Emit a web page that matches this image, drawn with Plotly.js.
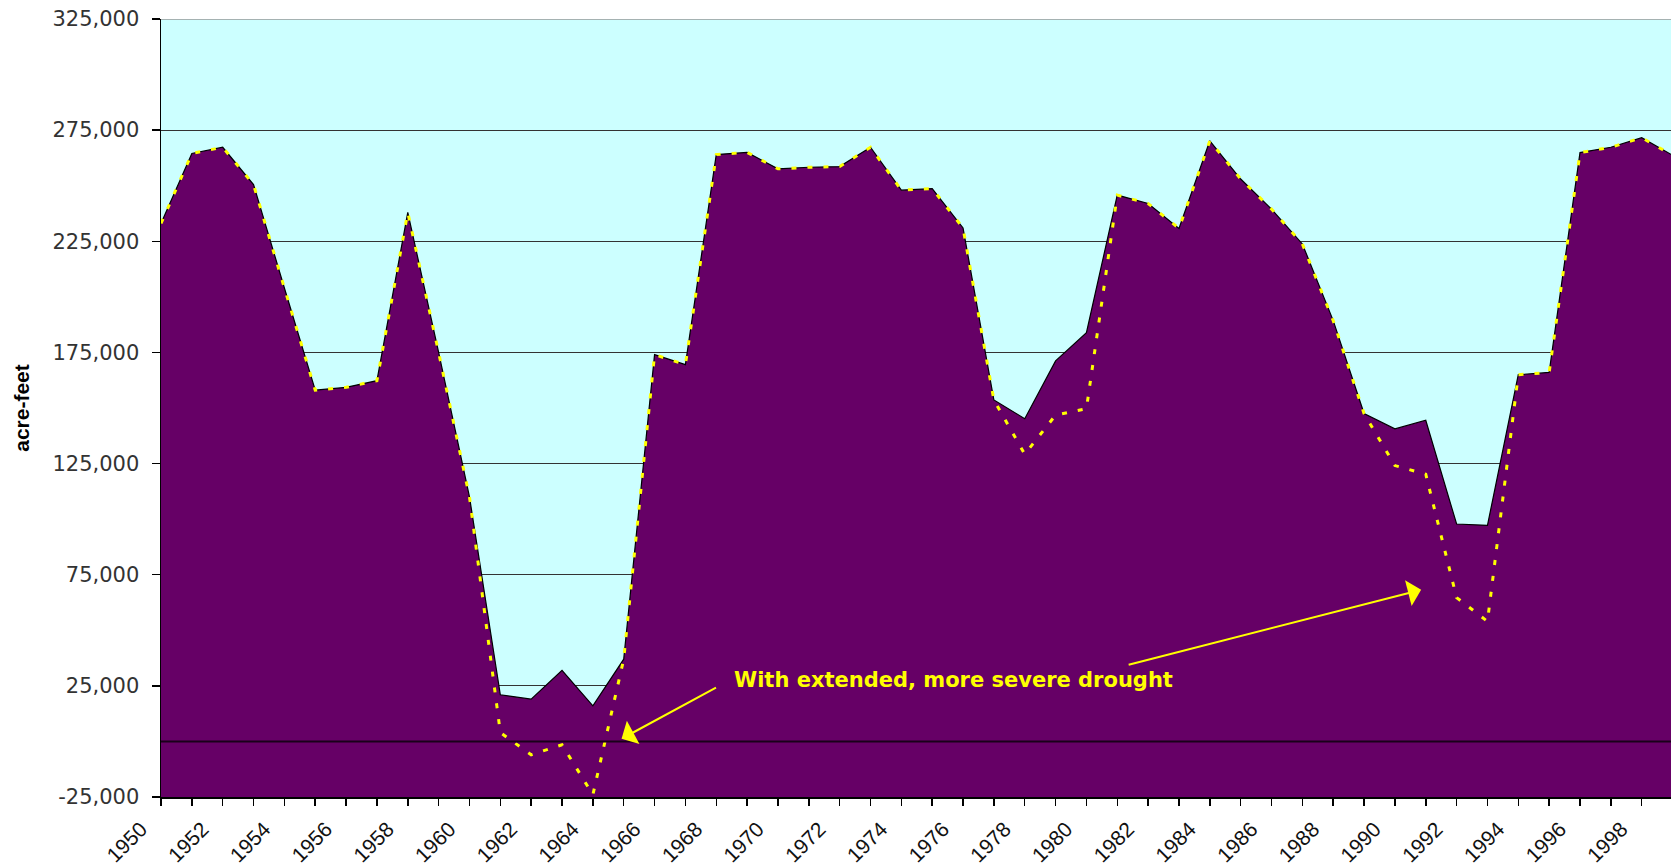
<!DOCTYPE html>
<html>
<head>
<meta charset="utf-8">
<script src="https://cdn.plot.ly/plotly-3.0.1.min.js"></script>
<style>
  html, body { margin: 0; padding: 0; background: #ffffff; }
  #chart { width: 1671px; height: 868px; }
</style>
</head>
<body>
<div id="chart"></div>
<script>
// ---- data ----
const years = [1950, 1951, 1952, 1953, 1954, 1955, 1956, 1957, 1958, 1959,
               1960, 1961, 1962, 1963, 1964, 1965, 1966, 1967, 1968, 1969,
               1970, 1971, 1972, 1973, 1974, 1975, 1976, 1977, 1978, 1979,
               1980, 1981, 1982, 1983, 1984, 1985, 1986, 1987, 1988, 1989,
               1990, 1991, 1992, 1993, 1994, 1995, 1996, 1997, 1998, 1999];

// storage (acre-feet), historical hydrology
const storage = [233000, 264500, 267300, 250500, 204000, 158000, 159300, 162300, 238000, 175000,
                 110000, 21000, 19000, 32000, 16000, 37000, 174000, 169500, 264000, 265000,
                 257600, 258300, 258600, 267300, 248000, 248700, 231000, 153600, 145200, 171200,
                 183900, 245800, 242000, 230800, 270200, 253000, 239500, 223800, 189300, 147500,
                 140600, 144500, 97800, 97200, 165000, 166000, 264900, 267300, 271600, 263700];

// storage with extended, more severe drought
const droughtStorage = [233000, 264500, 267300, 250500, 204000, 158000, 159300, 162300, 238000, 175000,
                        110000, 4000, -6000, -1500, -24000, 37000, 174000, 169500, 264000, 265000,
                        257600, 258300, 258600, 267300, 248000, 248700, 231000, 153600, 129200, 146800,
                        149700, 245800, 242000, 230800, 270200, 253000, 239500, 223800, 189300, 147500,
                        124100, 120200, 64700, 54000, 165000, 166000, 264900, 267300, 271600, 263700];

const yTickVals = [-25000, 25000, 75000, 125000, 175000, 225000, 275000, 325000];
const yTickText = ['-25,000', '25,000', '75,000', '125,000', '175,000', '225,000', '275,000', '325,000'];

const annotationText = 'With extended, more severe drought';
const yTitle = 'acre-feet';

// ---- chart ----
const yMin = -25000, yMax = 325000;

const traces = [
  {
    x: years, y: storage, type: 'scatter', mode: 'lines',
    fill: 'tozeroy', fillcolor: '#660066',
    line: { color: '#000000', width: 1.2 },
    hoverinfo: 'x+y', showlegend: false
  },
  {
    x: years, y: droughtStorage, type: 'scatter', mode: 'lines',
    line: { color: '#FFFF00', width: 3, dash: '5px,11px' },
    hoverinfo: 'x+y', showlegend: false
  }
];

const layout = {
  width: 1671, height: 868, autosize: false,
  margin: { l: 161, r: 0, t: 19, b: 71, pad: 0 },
  paper_bgcolor: '#ffffff',
  plot_bgcolor: '#CCFFFF',
  showlegend: false,
  xaxis: {
    range: [1950, 1998.95],
    tickmode: 'linear', tick0: 1950, dtick: 2,
    tickangle: -45,
    ticks: 'outside', ticklen: 7, tickcolor: '#000000', tickwidth: 1.5,
    ticklabelshift: -20, ticklabelstandoff: 3,
    minor: { dtick: 1, tick0: 1950, ticks: 'outside', ticklen: 7, tickcolor: '#000000', tickwidth: 1.5, showgrid: false },
    showgrid: false, zeroline: false,
    showline: true, linecolor: '#000000', linewidth: 1.5,
    tickfont: { family: 'Liberation Sans, Arial, sans-serif', size: 21, color: '#111111' },
    fixedrange: true
  },
  yaxis: {
    range: [yMin, yMax],
    tickmode: 'array', tickvals: yTickVals, ticktext: yTickText,
    ticks: 'outside', ticklen: 8, tickcolor: '#000000', tickwidth: 1.5,
    ticklabelstandoff: 8,
    showgrid: true, gridcolor: '#333333', gridwidth: 1,
    zeroline: false,
    showline: true, linecolor: '#000000', linewidth: 1.5,
    tickfont: { family: 'DejaVu Sans, sans-serif', size: 21, color: '#333333' },
    title: { text: yTitle, font: { family: 'Liberation Sans, Arial, sans-serif', size: 21, color: '#000000', weight: 'bold' }, standoff: 17 },
    fixedrange: true
  },
  shapes: [
    { type: 'rect', xref: 'paper', x0: 0, x1: 1, yref: 'y', y0: yMin, y1: 0,
      fillcolor: '#660066', line: { width: 0 }, layer: 'below' },
    { type: 'line', xref: 'paper', x0: 0, x1: 1, yref: 'y', y0: 0, y1: 0,
      line: { color: '#1a001a', width: 2 }, layer: 'above' },
    { type: 'line', xref: 'paper', x0: 0, x1: 1, yref: 'y', y0: yMax, y1: yMax,
      line: { color: '#999999', width: 1.5 }, layer: 'above' }
  ],
  annotations: [
    { x: 1968.52, y: 27500, xref: 'x', yref: 'y', text: '<b>' + annotationText + '</b>',
      showarrow: false, xanchor: 'left', yanchor: 'middle',
      font: { family: 'DejaVu Sans, Verdana, sans-serif', size: 21, color: '#FFFF00' } },
    { x: 1964.93, y: 1200, ax: 1968.04, ay: 24600, xref: 'x', yref: 'y', axref: 'x', ayref: 'y',
      text: '', showarrow: true, arrowhead: 1, arrowsize: 2.2, arrowwidth: 2, arrowcolor: '#FFFF00', standoff: 0, startstandoff: 0 },
    { x: 1990.85, y: 68200, ax: 1981.32, ay: 34300, xref: 'x', yref: 'y', axref: 'x', ayref: 'y',
      text: '', showarrow: true, arrowhead: 1, arrowsize: 2.2, arrowwidth: 2, arrowcolor: '#FFFF00', standoff: 0, startstandoff: 0 }
  ]
};

Plotly.newPlot('chart', traces, layout, { displayModeBar: false, staticPlot: true });
</script>
</body>
</html>
